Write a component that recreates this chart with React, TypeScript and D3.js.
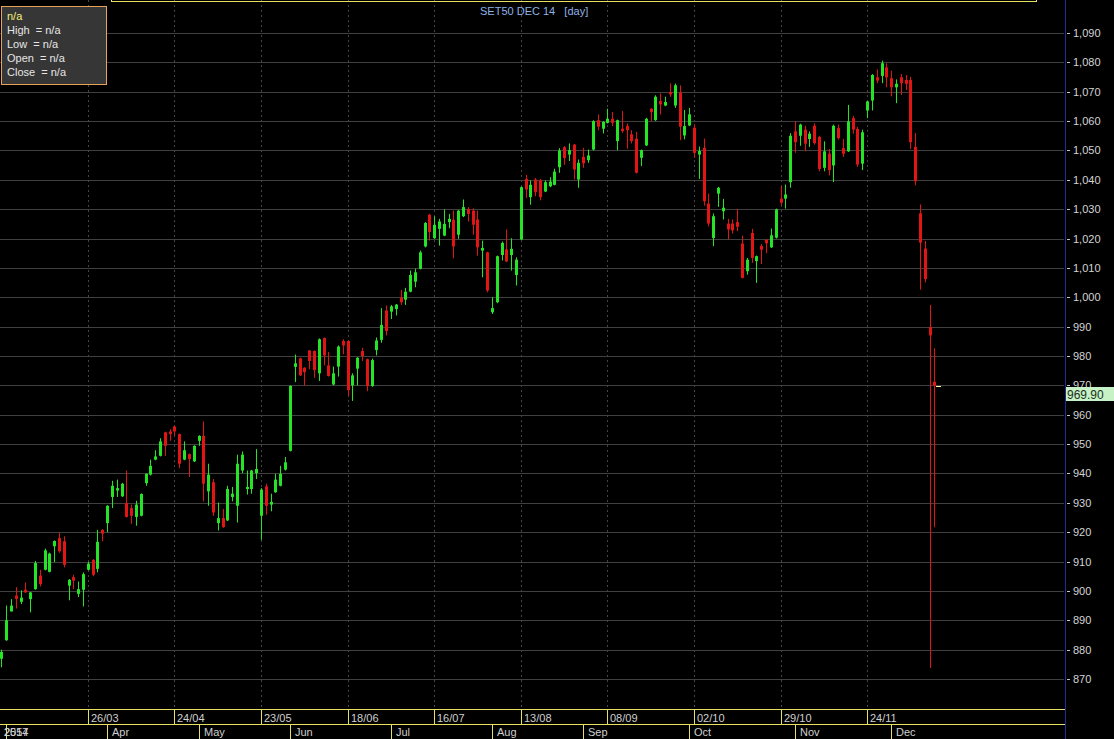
import React from "react";
import * as d3 from "d3";

const opens = [876.9,883.2,893,898.4,896.3,900.4,897.2,900.6,905.2,907.2,906.5,915.2,918,916.9,901.8,904.7,899,900.4,907.2,910.6,907.5,920.8,923.1,932,934.2,932.2,929.9,928.2,925.2,925.6,936.7,939.6,944.7,946,954,954.3,956,953.4,944.7,946.6,944.1,951.1,952.8,933.9,937,923.1,924.8,924,932,929,941,934.7,934.7,940.1,925.6,935.6,929.4,933.6,935.8,941.3,947.7,976.3,979.2,976,981.9,981.7,974.1,986.1,976.8,970.3,976.4,985.1,985.1,970,975.7,981.7,978.9,969.8,982,985.5,995.5,995.1,996,999.9,999.2,1001.9,1005.3,1009.7,1017.3,1028.1,1020.1,1023.3,1021,1025.6,1026.4,1021.3,1027.6,1030.1,1029.5,1026.5,1015.9,1015.3,994.9,998.3,1014.4,1016.3,1014.4,1007.6,1019.7,1040.3,1034.1,1040.1,1039.8,1036,1037.8,1038.3,1044.3,1051.1,1048.6,1052,1040.1,1047.8,1046.7,1050.3,1060.3,1057.4,1059.4,1060.8,1053.2,1057.4,1058.3,1055.5,1054,1047.5,1051.7,1064.2,1060.3,1066.8,1065.3,1069.9,1065.3,1069.7,1055.1,1058.5,1057.7,1048.6,1050.9,1031.9,1020.2,1035.3,1029.3,1025.1,1025.1,1025.6,1018.3,1008.9,1021.9,1012.3,1017.5,1019.5,1017,1020.3,1033.6,1033.6,1039.2,1056.5,1055,1057.1,1053.9,1058.4,1054.6,1044.1,1048.9,1044.9,1057.6,1050.8,1049.7,1061,1057.3,1045.5,1063.6,1067,1074.9,1075.4,1078.3,1074.6,1071.5,1074.9,1074,1074,1051.2,1028.6,1016.6,989.8,971.2];
const highs = [880,895,897.2,901.3,900.2,902.9,899.6,910.2,907.2,914.4,913,917.2,919.7,918.6,904,905.5,903.2,906.3,909.9,910.8,920.8,921,929.2,937.5,937.9,936.8,941,929.4,930.7,933.2,940,944.7,947.9,952,954.2,955.1,956.2,953.6,950.9,946.8,949.6,953,957.7,943.3,938.1,930.1,927.9,935.8,935.4,946.4,947.5,941,941.2,948.3,935,936.5,933.1,939.9,942.6,945.6,970,980.5,979.4,976.2,982,981.9,986,986.3,981.4,976.4,983.6,985.7,985.3,974.1,979.6,982.8,979.1,979.1,986.3,996.3,997.2,997.4,997.7,1002.5,1003.2,1009.1,1009.7,1015.9,1025.6,1028.4,1027.6,1026.7,1029.9,1028.4,1029.5,1029.7,1033.3,1030.7,1030.3,1029.5,1019.3,1015.5,1000,1014.2,1019,1023.1,1020.1,1013.6,1037.7,1041.7,1039.8,1040.6,1040.3,1039.8,1040.9,1043.8,1050.8,1051.5,1052.4,1052.2,1046.9,1050.9,1050.3,1060.3,1062.3,1060,1064.2,1063.1,1060.5,1063.4,1059.2,1056.9,1056.3,1050.3,1061.1,1064.4,1068.8,1069.4,1068.3,1072.8,1072.8,1072.2,1063.8,1064.5,1058.9,1051.3,1054,1035.3,1028.5,1037.6,1033.5,1026.7,1026.5,1030.1,1021,1013.4,1023.3,1014.2,1018.1,1019.8,1023.4,1030.2,1037.9,1038.4,1055.9,1059.9,1059.1,1058.4,1056.5,1059.3,1055,1053.1,1050.5,1058.8,1058.8,1053.9,1065.5,1061.8,1058,1057.1,1066.9,1076,1077.6,1080.6,1079.7,1077.2,1074.2,1076,1075.7,1075.1,1055.9,1031.6,1019.2,997.4,982.6];
const lows = [874,883,893,894,895.5,899.3,892.7,900.4,901.5,907,906.3,909.8,913,908,896.8,900.6,897.9,894.7,907,905,906.3,916.9,920,928.2,932,932,925,922.9,922.2,925.4,935.8,939.3,944.5,945.8,946,951.1,952.8,941.8,944.5,938.8,943.9,949.4,930.5,929,925.6,920.6,921.5,923.8,930.5,923.3,940.1,932.8,933.1,938.1,917.4,925.9,927.1,933.4,935.6,941,947.5,971.1,973.2,970,975.5,972.6,971.5,976.8,973,970,973,980.6,966.4,964.7,970,978.3,968,969.5,980.2,984.5,987,992.6,993.8,997.4,997.4,1001.7,1003.4,1009.5,1017,1019.3,1019.9,1017.6,1020.8,1023.5,1013.3,1019.9,1027.3,1025.8,1021.3,1014.2,1006.8,1001.7,994.3,998,1012.5,1012,1009.1,1004,1019.5,1033.8,1031.5,1034.4,1033,1035.8,1037.5,1038.1,1042.4,1045.1,1046.4,1040.1,1037.3,1044.1,1045.8,1050,1056.9,1055.8,1059.2,1058.3,1050.1,1056,1050.6,1052.4,1042.2,1044.7,1051.5,1060,1060.1,1062.3,1065.1,1068.3,1064.5,1053.5,1053.8,1058.3,1047.5,1040.3,1031.2,1024.2,1017.4,1030.8,1026.5,1019.7,1021.7,1022.5,1006.4,1007.7,1011.7,1004.9,1011.3,1015,1016.8,1020,1031.3,1030.2,1037.3,1049.2,1051.6,1049.7,1051.2,1052,1042.9,1042.9,1041.5,1039.2,1053.7,1047.8,1049.5,1055.7,1044.4,1043.3,1061,1063.6,1072.9,1072.9,1071.5,1068.4,1066.1,1068.9,1070.6,1050.5,1038.1,1002.6,1005.1,873.7,921.7];
const closes = [879.2,890,895,897.3,897.7,899.5,899.5,909.5,902.3,913.8,912.7,917,913.5,908.9,903.8,903.5,900.6,905.7,909.3,905.5,916.7,919.5,929,935.8,935,936.5,925.2,925.6,929.4,933,939.9,942.6,945.8,950.9,949.4,953.4,954.3,943.3,947.9,944.9,949.4,952.8,936.5,939.6,926.7,924.8,921.7,934.7,933.1,943.3,946.4,935.4,941,941.5,934.5,929,930.3,937.9,939.9,943.8,969.8,977.5,973.4,974.5,978.3,975.2,985.7,980.2,973.2,974.1,983.2,983.6,968.4,973.4,979.4,980,969.8,978.6,985.3,990.6,988.5,996.9,997.5,998.3,1001.9,1007.6,1008.5,1015.3,1025.3,1022.2,1024.7,1025.8,1025,1026.7,1017.3,1029.5,1030.7,1028.4,1024.7,1017,1016.8,1002.3,996.3,1014,1018.5,1012.2,1016.5,1012.8,1037.5,1036.7,1038.3,1035.8,1034.1,1039.2,1039.4,1042.8,1050,1047.4,1050.1,1043.5,1045.8,1045.6,1048.3,1060,1058.1,1059.7,1060.8,1059.4,1060.3,1056.6,1056.9,1053.2,1042.4,1050.1,1060.8,1063.1,1068.3,1065.7,1066.5,1069.1,1072.2,1058.1,1058.3,1062.3,1049.2,1049.8,1032.7,1025.1,1027.6,1037.3,1030.5,1023.1,1022.8,1024,1006.6,1012.8,1013.4,1014,1016.2,1018.4,1021.1,1029.9,1032.2,1035,1055,1052.8,1058.8,1052.3,1055.7,1052.5,1043.7,1049.7,1043.3,1058.4,1054.2,1048.9,1059.9,1057.1,1045.2,1056.2,1066.7,1075.7,1073.8,1079.7,1074.9,1071.5,1072.7,1072.9,1072.7,1052.8,1039.5,1018.6,1006.2,987,969.9];

const dateTickBars = [18, 36, 54, 72, 90, 108, 126, 144, 162, 180];
const dateTickLabels = ["26/03", "24/04", "23/05", "18/06", "16/07", "13/08", "08/09", "02/10", "29/10", "24/11"];
const monthBars = [1, 22, 41, 60, 81, 102, 121, 143, 165, 185];
const monthLabels = ["2557", "Apr", "May", "Jun", "Jul", "Aug", "Sep", "Oct", "Nov", "Dec"];
const priceTicks = d3.range(870, 1091, 10);
const title = "SET50 DEC 14   [day]";
const legendLines = ["High  = n/a", "Low  = n/a", "Open  = n/a", "Close  = n/a"];

const W = 1114;
const H = 739;
const FONT = "'Liberation Sans', Arial, sans-serif";

export default function App() {
  const n = closes.length;
  const x = d3.scaleLinear().domain([0, n - 1]).range([1.3, 1.3 + 4.81 * (n - 1)]);
  const y = d3.scaleLinear().domain([870, 1090]).range([679, 33]);
  const plotRight = 1065;
  const axisTop = 709.5;
  const axisMid = 724.5;
  const fmt = d3.format(",");
  const GREEN = "#25e425";
  const RED = "#e21515";
  const last = closes[n - 1];
  const lastY = y(last);

  return (
    <svg width={W} height={H} style={{ position: "absolute", left: 0, top: 0, display: "block", background: "#000" }}>
      <rect x={0} y={0} width={W} height={H} fill="#000" />
      {priceTicks.map((t) => (
        <line key={"g" + t} x1={0} x2={plotRight - 1} y1={Math.round(y(t)) + 0.5} y2={Math.round(y(t)) + 0.5} stroke="#404040" strokeWidth={1} />
      ))}
      {dateTickBars.map((b) => (
        <line key={"v" + b} x1={Math.round(x(b)) + 0.5} x2={Math.round(x(b)) + 0.5} y1={0} y2={axisTop} stroke="#464646" strokeDasharray="2,3" strokeWidth={1} />
      ))}
      {closes.map((c, i) => {
        const o = opens[i];
        const up = c >= o;
        const col = up ? GREEN : RED;
        const cx = Math.round(x(i));
        const yt = y(Math.max(o, c));
        const yb = y(Math.min(o, c));
        return (
          <g key={"c" + i}>
            <line x1={cx + 0.5} x2={cx + 0.5} y1={y(highs[i])} y2={y(lows[i])} stroke={col} strokeWidth={1} />
            <rect x={cx - 1} y={yt} width={3} height={Math.max(1.2, yb - yt)} fill={col} />
          </g>
        );
      })}
      <line x1={Math.round(x(n - 1)) + 2} x2={Math.round(x(n - 1)) + 7} y1={Math.round(lastY) + 0.5} y2={Math.round(lastY) + 0.5} stroke="#ffffa0" strokeWidth={1} />

      <rect x={111.5} y={-20} width={925} height={21.5} fill="none" stroke="#e8e060" strokeWidth={1} />
      <text x={480} y={15} fill="#8fb2e6" fontFamily={FONT} fontSize={11} style={{ whiteSpace: "pre" }}>{title}</text>

      <line x1={plotRight + 0.5} x2={plotRight + 0.5} y1={0} y2={H} stroke="#1c2aa8" strokeWidth={1} />
      {priceTicks.map((t) => (
        <g key={"t" + t}>
          <line x1={plotRight + 2} x2={plotRight + 5} y1={Math.round(y(t)) + 0.5} y2={Math.round(y(t)) + 0.5} stroke="#c8c8c8" />
          <text x={plotRight + 8} y={y(t) + 4} fill="#d4d4d4" fontFamily={FONT} fontSize={11}>{fmt(t)}</text>
        </g>
      ))}
      <rect x={plotRight + 1} y={Math.round(lastY) + 1} width={W - plotRight - 1} height={14} fill="#c6f2c6" />
      <text x={plotRight + 2} y={Math.round(lastY) + 12.5} fill="#203020" fontFamily={FONT} fontSize={12}>{last.toFixed(2)}</text>

      <rect x={0} y={axisTop} width={plotRight} height={H - axisTop} fill="#000" />
      <line x1={0} x2={plotRight} y1={axisTop} y2={axisTop} stroke="#e8e060" />
      <line x1={0} x2={plotRight} y1={axisMid} y2={axisMid} stroke="#e8e060" />
      {dateTickBars.map((b, i) => (
        <g key={"d" + b}>
          <line x1={Math.round(x(b)) + 0.5} x2={Math.round(x(b)) + 0.5} y1={axisTop} y2={axisMid} stroke="#e8e060" />
          <text x={Math.round(x(b)) + 3} y={axisMid - 3} fill="#cfcfcf" fontFamily={FONT} fontSize={11}>{dateTickLabels[i]}</text>
        </g>
      ))}
      {monthBars.map((b, i) => (
        <g key={"m" + b}>
          <line x1={Math.round(x(b)) + 0.5} x2={Math.round(x(b)) + 0.5} y1={axisMid} y2={H} stroke="#e8e060" />
          <text x={i === 0 ? 4 : Math.round(x(b)) + 5} y={H - 3} fill="#cfcfcf" fontFamily={FONT} fontSize={11}>{monthLabels[i]}</text>
          {i === 0 ? <text x={4} y={H - 3} fill="#cfcfcf" fontFamily={FONT} fontSize={11}>2014</text> : null}
        </g>
      ))}

      <rect x={1.5} y={6.5} width={105} height={78} fill="#363636" stroke="#e8a35a" strokeWidth={1} />
      <text x={7} y={20} fill="#f2f07a" fontFamily={FONT} fontSize={11}>n/a</text>
      {legendLines.map((s, i) => (
        <text key={"l" + i} x={7} y={34 + i * 14} fill="#e6e6e6" fontFamily={FONT} fontSize={11} style={{ whiteSpace: "pre" }}>{s}</text>
      ))}
    </svg>
  );
}
